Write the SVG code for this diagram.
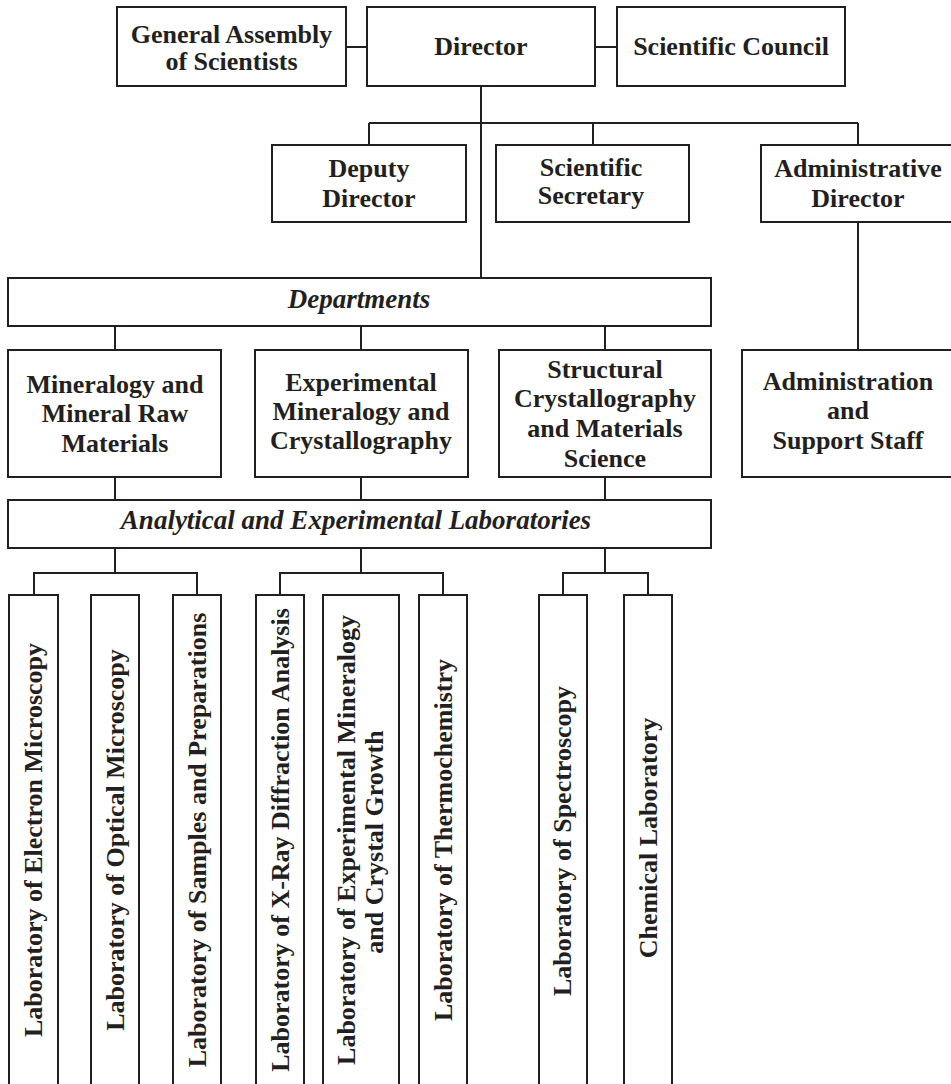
<svg xmlns="http://www.w3.org/2000/svg" width="951" height="1084" viewBox="0 0 951 1084">
<style>
.box{fill:#fff;stroke:#231f20;stroke-width:2}
.ln{fill:none;stroke:#231f20;stroke-width:2}
text{font-family:"Liberation Serif","Times New Roman",serif;font-weight:bold;font-size:26px;fill:#231f20;text-anchor:middle}
.it{font-style:italic;font-size:27px}
</style>
<rect width="951" height="1084" fill="#fff"/>
<g id="connectors">
<path class="ln" d="M346 47H367M595 47H617M481 86V278M369 123H858M369 123V145M593 123V145M858 123V145M858 222V350M115 326V350M361 326V350M605 326V350M115 477V500M361 477V500M605 477V500M115 548V573M361 548V573M605 548V573M34 595V573H197V595M280 595V573H443V595M563 595V573H648V595"/>
</g>
<g id="general-assembly"><rect class="box" x="117" y="7" width="229" height="79"/><text x="231.5" y="43">General Assembly</text><text x="231.5" y="70">of Scientists</text></g>
<g id="director"><rect class="box" x="367" y="7" width="228" height="79"/><text x="481" y="55">Director</text></g>
<g id="scientific-council"><rect class="box" x="617" y="7" width="228" height="79"/><text x="731" y="55">Scientific Council</text></g>
<g id="deputy-director"><rect class="box" x="272" y="145" width="194" height="77"/><text x="369" y="177">Deputy</text><text x="369" y="207">Director</text></g>
<g id="scientific-secretary"><rect class="box" x="496" y="145" width="193" height="77"/><text x="591" y="176">Scientific</text><text x="591" y="204">Secretary</text></g>
<g id="administrative-director"><rect class="box" x="761" y="145" width="196" height="77"/><text x="858" y="177">Administrative</text><text x="858" y="207">Director</text></g>
<g id="departments"><rect class="box" x="8" y="278" width="703" height="48"/><text class="it" x="359" y="308">Departments</text></g>
<g id="dept-mineralogy"><rect class="box" x="8" y="350" width="213" height="127"/><text x="115" y="393">Mineralogy and</text><text x="115" y="422">Mineral Raw</text><text x="115" y="452">Materials</text></g>
<g id="dept-experimental"><rect class="box" x="255" y="350" width="213" height="127"/><text x="361" y="391">Experimental</text><text x="361" y="420">Mineralogy and</text><text x="361" y="449">Crystallography</text></g>
<g id="dept-structural"><rect class="box" x="499" y="350" width="212" height="127"/><text x="605" y="378">Structural</text><text x="605" y="407">Crystallography</text><text x="605" y="437">and Materials</text><text x="605" y="467">Science</text></g>
<g id="administration-support"><rect class="box" x="742" y="350" width="215" height="127"/><text x="848" y="390">Administration</text><text x="848" y="419">and</text><text x="848" y="449">Support Staff</text></g>
<g id="laboratories"><rect class="box" x="8" y="500" width="703" height="48"/><text class="it" x="356" y="529">Analytical and Experimental Laboratories</text></g>
<g id="lab-electron"><rect class="box" x="9" y="595" width="49" height="500"/><text transform="translate(42,840) rotate(-90)">Laboratory of Electron Microscopy</text></g>
<g id="lab-optical"><rect class="box" x="91" y="595" width="48" height="500"/><text transform="translate(124,840) rotate(-90)">Laboratory of Optical Microscopy</text></g>
<g id="lab-samples"><rect class="box" x="173" y="595" width="48" height="500"/><text transform="translate(206,840) rotate(-90)">Laboratory of Samples and Preparations</text></g>
<g id="lab-xray"><rect class="box" x="256" y="595" width="48" height="500"/><text transform="translate(289,840) rotate(-90)">Laboratory of X-Ray Diffraction Analysis</text></g>
<g id="lab-experimental"><rect class="box" x="323" y="595" width="76" height="500"/><text transform="translate(355,840) rotate(-90)">Laboratory of Experimental Mineralogy</text><text transform="translate(383,842) rotate(-90)">and Crystal Growth</text></g>
<g id="lab-thermochemistry"><rect class="box" x="419" y="595" width="48" height="500"/><text transform="translate(452,840) rotate(-90)">Laboratory of Thermochemistry</text></g>
<g id="lab-spectroscopy"><rect class="box" x="539" y="595" width="48" height="500"/><text transform="translate(571,841) rotate(-90)">Laboratory of Spectroscopy</text></g>
<g id="lab-chemical"><rect class="box" x="624" y="595" width="48" height="500"/><text transform="translate(657,838) rotate(-90)">Chemical Laboratory</text></g>
</svg>
